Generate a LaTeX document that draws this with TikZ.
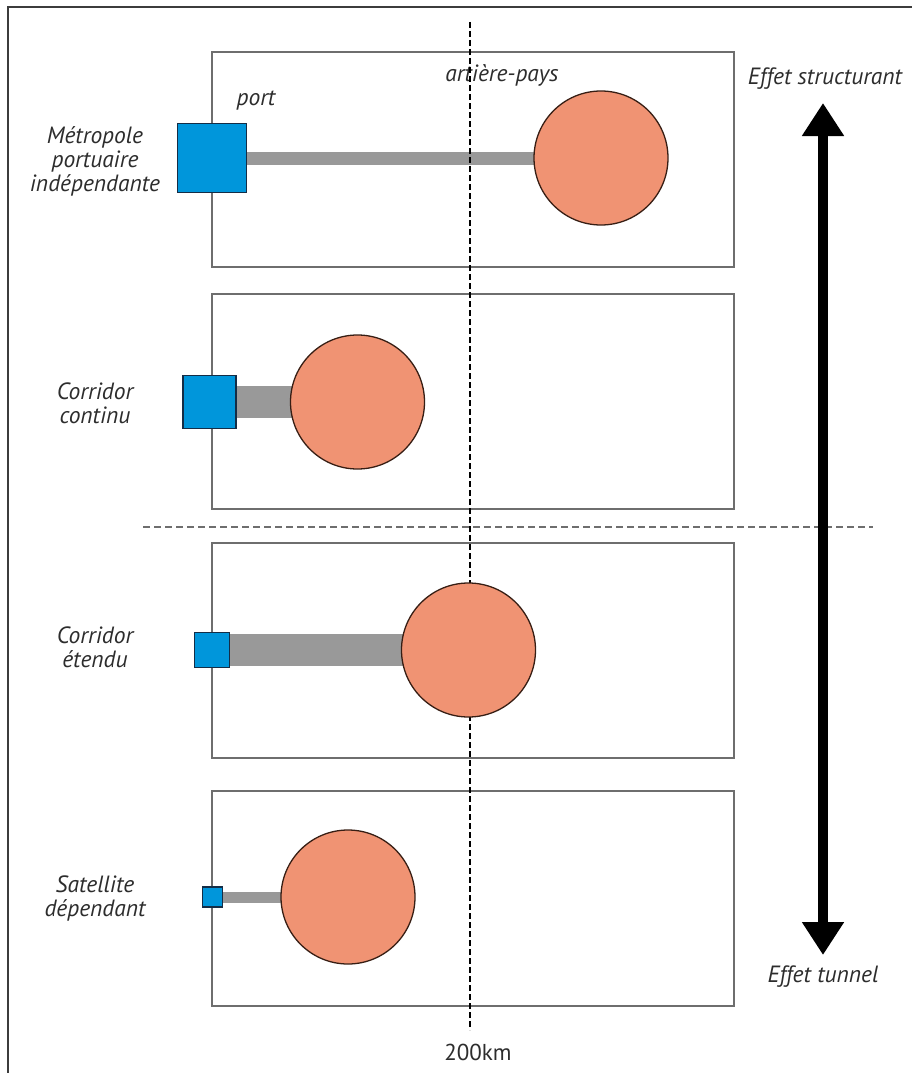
\documentclass[tikz,border=0pt]{standalone}
\usepackage{fontspec}
\setmainfont{PT Sans}
\usetikzlibrary{arrows.meta}
\definecolor{portblue}{RGB}{0,150,219}
\definecolor{portedge}{RGB}{20,45,70}
\definecolor{cityfill}{RGB}{240,147,115}
\definecolor{cityedge}{RGB}{55,30,20}
\definecolor{linkgray}{RGB}{153,153,153}
\definecolor{zonegray}{RGB}{110,110,110}
\definecolor{framegray}{RGB}{60,60,60}
\definecolor{txt}{RGB}{45,45,45}
\begin{document}
\begin{tikzpicture}[x=1pt,y=-1pt,
  zone/.style={draw=zonegray, line width=2pt},
  port/.style={draw=portedge, fill=portblue, line width=1.5pt, inner sep=0pt},
  city/.style={circle, draw=cityedge, fill=cityfill, line width=1.3pt, minimum size=134pt, inner sep=0pt},
  link/.style={draw=linkgray},
  lbl/.style={text=txt, font=\fontsize{23.5}{24}\selectfont\itshape, align=center, inner sep=0pt}]
\useasboundingbox (0,0) rectangle (912,1073);
\draw[framegray, line width=2pt] (8,7) rectangle (940,1100);
% zones
\draw[zone] (212,52) rectangle (734,267);
\draw[zone] (212,294) rectangle (734,509);
\draw[zone] (212,543) rectangle (734,758);
\draw[zone] (212,791) rectangle (734,1006);
% centres
\coordinate (p1) at (212,158);
\coordinate (c1) at (601,158);
\coordinate (p2) at (209.5,402);
\coordinate (c2) at (357.5,402);
\coordinate (p3) at (212,650);
\coordinate (c3) at (468.5,650);
\coordinate (p4) at (212.5,897);
\coordinate (c4) at (348,897);
\draw[link, line width=13pt] (p1) -- (c1);
\draw[link, line width=32pt] (p2) -- (c2);
\draw[link, line width=32pt] (p3) -- (c3);
\draw[link, line width=11pt] (p4) -- (c4);
% labels
\node[lbl] (port) at (256,101) {port};
\node[lbl] (hinter) at (502,75) {artière-pays};
\node[lbl] (metro) at (95,161) {Métropole\\portuaire\\indépendante};
\node[lbl] (cont) at (95,403) {Corridor\\continu};
\node[lbl] (etendu) at (95,647) {Corridor\\étendu};
\node[lbl] (sat) at (95,898) {Satellite\\dépendant};
\node[lbl] (struct) at (825,79) {Effet structurant};
\node[lbl] (tunnel) at (823,977) {Effet tunnel};
\node[text=txt, font=\fontsize{23}{24}\selectfont, inner sep=0pt] (km) at (478,1052) {200km};
% limits
\coordinate (kmtop) at (470,22);
\coordinate (kmbot) at (470,1030);
\draw[black, line width=1.2pt, dash pattern=on 6pt off 3pt] (kmtop) -- (kmbot);
\coordinate (sepl) at (143,527);
\coordinate (sepr) at (873,527);
\draw[zonegray, line width=2pt, dash pattern=on 7pt off 4pt] (sepl) -- (sepr);
% ports and cities
\node[port, minimum size=69pt] (sq1) at (p1) {};
\node[port, minimum size=53pt] (sq2) at (p2) {};
\node[port, minimum size=35pt] (sq3) at (p3) {};
\node[port, minimum size=20pt] (sq4) at (p4) {};
\node[city] (city1) at (c1) {};
\node[city] (city2) at (c2) {};
\node[city] (city3) at (c3) {};
\node[city] (city4) at (c4) {};
% effect
\coordinate (up) at (823,103);
\coordinate (down) at (823,955);
\draw[{Triangle[length=33pt,width=40pt]}-{Triangle[length=33pt,width=40pt]}, line width=10pt] (down) -- (up);
\end{tikzpicture}
\end{document}
